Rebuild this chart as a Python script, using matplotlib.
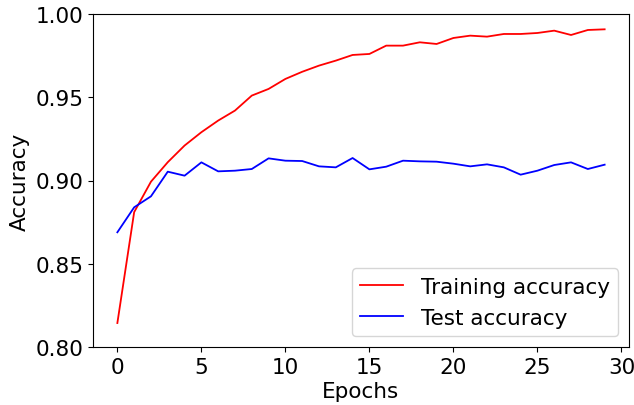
import matplotlib
matplotlib.use("Agg")
import matplotlib.pyplot as plt

epochs = list(range(30))
train_acc = [0.8144, 0.881, 0.8993, 0.911, 0.921, 0.929, 0.936, 0.942, 0.951, 0.955,
             0.961, 0.9653, 0.969, 0.972, 0.9754, 0.976, 0.981, 0.981, 0.983, 0.982,
             0.9856, 0.987, 0.9864, 0.988, 0.988, 0.9886, 0.990, 0.9874, 0.9904, 0.9908]
test_acc = [0.8689, 0.8839, 0.8905, 0.9053, 0.9029, 0.9109, 0.9055, 0.9059, 0.9069, 0.9133,
            0.9119, 0.9117, 0.9085, 0.9079, 0.9135, 0.9067, 0.9083, 0.9119, 0.9115, 0.9113,
            0.9101, 0.9085, 0.9097, 0.9079, 0.9035, 0.9059, 0.9093, 0.9109, 0.9069, 0.9095]

fig = plt.figure(figsize=(6.34, 4.06), dpi=100)
ax = fig.add_axes([93/634, 58/406, 536/634, 333/406])
ax.plot(epochs, train_acc, color="red", lw=1.3, label="Training accuracy")
ax.plot(epochs, test_acc, color="blue", lw=1.3, label="Test accuracy")
ax.set_ylim(0.80, 1.00)
ax.set_yticks([0.80, 0.85, 0.90, 0.95, 1.00])
ax.set_xticks([0, 5, 10, 15, 20, 25, 30])
ax.tick_params(labelsize=15.5)
ax.set_xlabel("Epochs", fontsize=15.5, labelpad=3)
ax.set_ylabel("Accuracy", fontsize=15.5, labelpad=4)
ax.legend(loc="lower right", fontsize=15.5)
fig.savefig("out.png", dpi=100)
